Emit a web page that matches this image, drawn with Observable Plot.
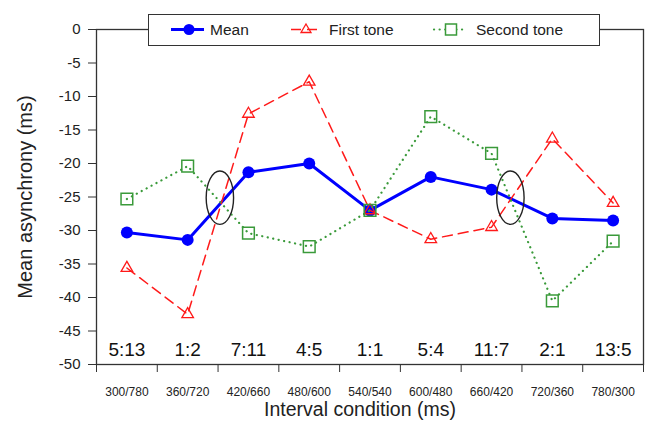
<!DOCTYPE html>
<html>
<head>
<meta charset="utf-8">
<script src="https://cdn.jsdelivr.net/npm/d3@7"></script>
<script src="https://cdn.jsdelivr.net/npm/@observablehq/plot@0.6"></script>
<style>
  html, body { margin: 0; padding: 0; background: #fff; }
  #wrap { position: relative; width: 646px; height: 425px; font-family: "Liberation Sans", Arial, Helvetica, sans-serif; }
  #legend { position: absolute; left: 148px; top: 14px; width: 452px; height: 32px; box-sizing: border-box; border: 1.5px solid #333; background: #fff; }
  #legend svg { position: absolute; left: 0; top: 0; }
</style>
</head>
<body>
<div id="wrap"></div>
<script>
// ---- data ----
const ratios = ["5:13", "1:2", "7:11", "4:5", "1:1", "5:4", "11:7", "2:1", "13:5"];
const intervalLabels = ["300/780", "360/720", "420/660", "480/600", "540/540", "600/480", "660/420", "720/360", "780/300"];
const meanValues = [-30.3, -31.4, -21.3, -20.0, -27.0, -22.0, -23.9, -28.2, -28.5];
const firstTone = [-35.6, -42.5, -12.6, -7.8, -27.0, -31.3, -29.5, -16.3, -25.9];
const secondTone = [-25.3, -20.4, -30.4, -32.4, -27.0, -13.0, -18.5, -40.5, -31.6];
const yTicks = [0, -5, -10, -15, -20, -25, -30, -35, -40, -45, -50];
const ellipseMarks = [{x: 1.53, y: -25.1}, {x: 6.31, y: -25.1}];

const idx = ratios.map((_, i) => i);
const rows = (vals) => vals.map((v, i) => ({x: i, y: v}));
const edges = idx.map(i => i - 0.5).concat(ratios.length - 0.5);

const font = "Liberation Sans, Arial, Helvetica, sans-serif";
const blue = "#0000ff", red = "#ff1a1a", green = "#3a9a3a";

// custom ellipse symbol for annotations
const ellipseSymbol = {
  draw(ctx, size) {
    const rx = 13.7, ry = 26.7, k = 0.5523;
    ctx.moveTo(rx, 0);
    ctx.bezierCurveTo(rx, k * ry, k * rx, ry, 0, ry);
    ctx.bezierCurveTo(-k * rx, ry, -rx, k * ry, -rx, 0);
    ctx.bezierCurveTo(-rx, -k * ry, -k * rx, -ry, 0, -ry);
    ctx.bezierCurveTo(k * rx, -ry, rx, -k * ry, rx, 0);
    ctx.closePath();
  }
};

const chart = Plot.plot({
  width: 646,
  height: 425,
  marginLeft: 96,
  marginRight: 3,
  marginTop: 29,
  marginBottom: 61,
  style: {fontFamily: font, color: "#222", background: "transparent"},
  x: {domain: [-0.5, ratios.length - 0.5]},
  y: {domain: [-50, 0]},
  marks: [
    Plot.axisY(yTicks, {tickSize: 8, tickPadding: 8, tickFormat: d => String(d), fontSize: 15, label: null, stroke: "#333"}),
    Plot.axisX(edges, {tickSize: 8, tickFormat: () => "", label: null, stroke: "#333"}),
    Plot.axisX(idx, {tickSize: 0, tickPadding: 23, tickFormat: i => intervalLabels[i], fontSize: 12, label: null, fill: "#222"}),
    Plot.text(["Mean asynchrony (ms)"], {frameAnchor: "left", dx: -71, rotate: -90, textAnchor: "middle", lineAnchor: "middle", fontSize: 20, fill: "#222"}),
    Plot.text(["Interval condition (ms)"], {frameAnchor: "bottom", dy: 45, dx: -10, textAnchor: "middle", lineAnchor: "middle", fontSize: 19.5, fill: "#222"}),
    Plot.frame({stroke: "#333", strokeWidth: 1.3}),
    Plot.text(ratios, {x: (d, i) => i, y: -47.8, text: d => d, fontSize: 19, fill: "#111"}),
    Plot.line(rows(meanValues), {x: "x", y: "y", stroke: blue, strokeWidth: 3}),
    Plot.dot(rows(meanValues), {x: "x", y: "y", r: 6, fill: blue, stroke: "none"}),
    Plot.line(rows(firstTone), {x: "x", y: "y", stroke: red, strokeWidth: 1.5, strokeDasharray: "10,6"}),
    Plot.dot(rows(firstTone), {x: "x", y: "y", symbol: "triangle", r: 4.3, stroke: red, strokeWidth: 1.3, fill: "none"}),
    Plot.line(rows(secondTone), {x: "x", y: "y", stroke: green, strokeWidth: 2.2, strokeDasharray: "0.1,5.5", strokeLinecap: "round"}),
    Plot.dot(rows(secondTone), {x: "x", y: "y", symbol: "square", r: 6.6, stroke: green, strokeWidth: 1.5, fill: "none"}),
    Plot.dot(ellipseMarks, {x: "x", y: "y", symbol: ellipseSymbol, r: 5, stroke: "#222", strokeWidth: 1.4, fill: "none"})
  ]
});

const wrap = document.getElementById("wrap");
wrap.appendChild(chart);

// legend overlay
const legend = document.createElement("div");
legend.id = "legend";
legend.innerHTML = `
<svg width="452" height="32" xmlns="http://www.w3.org/2000/svg" font-family="${font}" font-size="15.5" fill="#222">
  <line x1="22" x2="55" y1="14.5" y2="14.5" stroke="${blue}" stroke-width="3"/>
  <circle cx="40" cy="14.5" r="5.5" fill="${blue}"/>
  <text x="61" y="20">Mean</text>
  <line x1="140" x2="174" y1="14.5" y2="14.5" stroke="${red}" stroke-width="1.5" stroke-dasharray="10,6" stroke-dashoffset="-2"/>
  <path d="M157,9 L162,17.5 L152,17.5 Z" fill="none" stroke="${red}" stroke-width="1.3"/>
  <text x="180" y="20">First tone</text>
  <line x1="285" x2="316" y1="14.5" y2="14.5" stroke="${green}" stroke-width="2.2" stroke-dasharray="0.1,5.5" stroke-linecap="round"/>
  <rect x="296.5" y="9" width="11" height="11" fill="#fff" stroke="${green}" stroke-width="1.5"/>
  <text x="327" y="20">Second tone</text>
</svg>`;
wrap.appendChild(legend);
</script>
</body>
</html>
